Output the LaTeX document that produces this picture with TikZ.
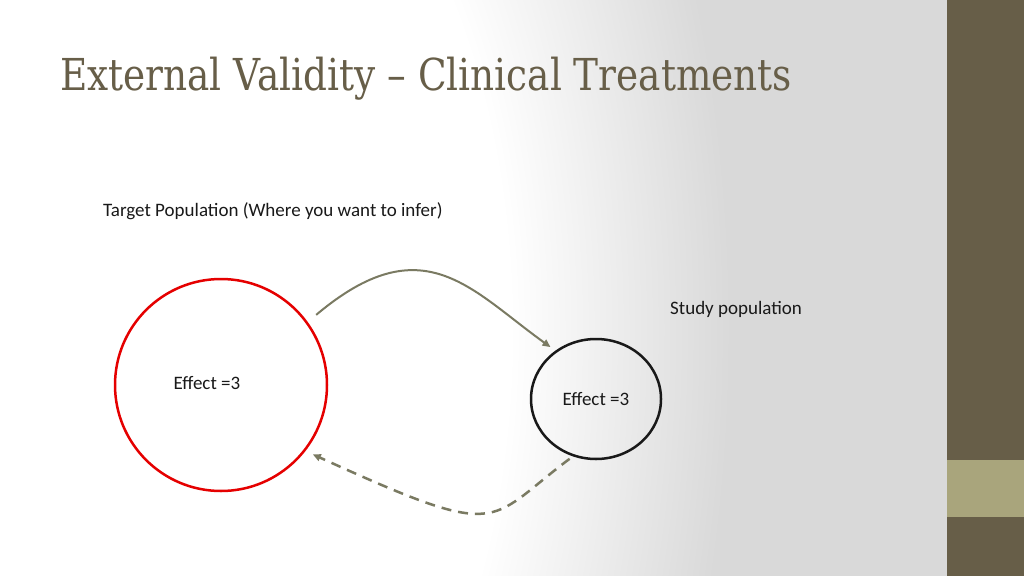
\documentclass[tikz,border=0pt]{standalone}
\usepackage{fontspec}
\setmainfont{Carlito}
\newfontfamily\titlefont{DejaVu Serif}
\usepackage{tikz}
\usetikzlibrary{arrows.meta,shapes.geometric,positioning}
\definecolor{bggray}{RGB}{217,217,217}
\definecolor{olive}{RGB}{103,94,72}
\definecolor{oliveLight}{RGB}{169,165,124}
\definecolor{arrowgray}{RGB}{122,122,98}
\pgfdeclareradialshading{glow}{\pgfpoint{0bp}{0bp}}{color(0bp)=(white); color(14bp)=(white); color(24bp)=(bggray); color(50bp)=(bggray)}
\tikzset{
  >={Triangle[length=8pt,width=7pt]},
  heading/.style={font=\titlefont\fontsize{44}{50}\selectfont, text=olive, inner sep=0pt},
  caption/.style={font=\fontsize{19}{23}\selectfont, text=black!90, inner sep=0pt},
  targetring/.style={circle, draw=red!90!black, line width=2.5pt, minimum size=212pt, inner sep=0pt},
  studyring/.style={ellipse, draw=black!90, line width=2.5pt, minimum width=130pt, minimum height=120pt,
                    inner sep=0pt, font=\fontsize{19}{23}\selectfont, text=black!90},
  flow/.style={draw=arrowgray, line width=2pt, ->, shorten <=11pt, shorten >=6pt},
  backflow/.style={draw=arrowgray, line width=2.5pt, ->, dash pattern=on 10pt off 7pt,
                   shorten <=4pt, shorten >=8pt}
}

\begin{document}
\begin{tikzpicture}[x=1pt,y=-1pt]
\useasboundingbox (0,0) rectangle (1024,575);
% background and side bar
\fill[bggray] (-5,-5) rectangle (1030,580);
\begin{scope}
  \clip (-5,-5) rectangle (947,580);
  \shade[shading=glow] (-353,-666) rectangle (753,1326);
\end{scope}
\fill[olive] (947,-5) rectangle (1030,580);
\fill[oliveLight] (947,460) rectangle (1030,517);

\node[heading, anchor=base west, xscale=0.85] (head) at (60,91) {External Validity – Clinical Treatments};

\node[caption, anchor=west] (tgtname) at (103,211) {Target Population (Where you want to infer)};
\node[caption, anchor=west] (studyname) at (670,309) {Study population};

\node[targetring] (tgt) at (221,385) {};
\node[caption] (tgteffect) at (207,383) {Effect =3};
\node[studyring] (study) at (596,399) {Effect =3};

\draw[flow] (tgt.36) .. controls +(115,-97) and +(-85,-61) .. (study.130);
\draw[backflow] (study.248) .. controls +(-88,66) and +(200,91) .. (tgt.322);
\end{tikzpicture}
\end{document}
